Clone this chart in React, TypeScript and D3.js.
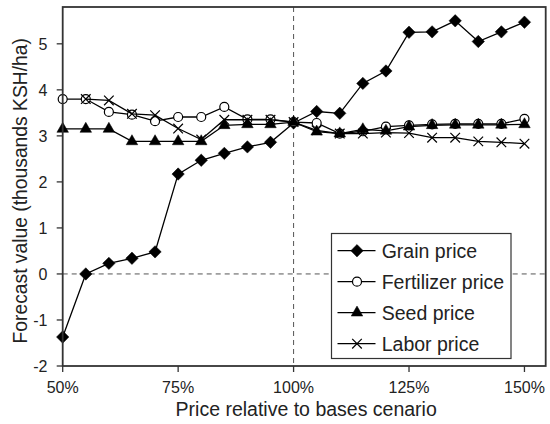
import React from "react";
import * as d3 from "d3";

const xValues = [50, 55, 60, 65, 70, 75, 80, 85, 90, 95, 100, 105, 110, 115, 120, 125, 130, 135, 140, 145, 150];
const grainPrice = [-1.37, 0.0, 0.23, 0.34, 0.48, 2.17, 2.47, 2.62, 2.76, 2.86, 3.28, 3.53, 3.49, 4.14, 4.41, 5.25, 5.26, 5.5, 5.05, 5.26, 5.47];
const fertilizerPrice = [3.8, 3.8, 3.52, 3.46, 3.32, 3.41, 3.41, 3.63, 3.36, 3.36, 3.3, 3.28, 3.05, 3.1, 3.2, 3.23, 3.25, 3.26, 3.26, 3.26, 3.37];
const seedPrice = [3.15, 3.15, 3.15, 2.88, 2.88, 2.88, 2.88, 3.23, 3.25, 3.25, 3.3, 3.09, 3.05, 3.14, 3.11, 3.2, 3.23, 3.24, 3.24, 3.24, 3.25];
const laborPrice: (number | null)[] = [null, 3.8, 3.77, 3.48, 3.45, 3.16, 2.92, 3.35, 3.35, 3.35, 3.3, 3.12, 3.05, 3.05, 3.07, 3.06, 2.96, 2.96, 2.88, 2.86, 2.83];

const seriesNames = ["Grain price", "Fertilizer price", "Seed price", "Labor price"];
const xTicks = [50, 75, 100, 125, 150];
const yTicks = [-2, -1, 0, 1, 2, 3, 4, 5];

const W = 550;
const H = 424;
const left = 62.7;
const right = 545.7;
const top = 7;
const bottom = 366;

const FONT = "'Liberation Sans', Arial, Helvetica, sans-serif";
const TXT = "#222";

function Marker({ kind, x, y }: { kind: string; x: number; y: number }) {
  if (kind === "diamond") {
    const s = 6.2;
    return <path d={`M${x},${y - s}L${x + s},${y}L${x},${y + s}L${x - s},${y}Z`} fill="#000" stroke="#000" strokeWidth={0.5} />;
  }
  if (kind === "circle") {
    return <circle cx={x} cy={y} r={4.5} fill="#fff" stroke="#000" strokeWidth={1.2} />;
  }
  if (kind === "triangle") {
    const tri = d3.symbol().type(d3.symbolTriangle).size(58)();
    return <path d={tri as string} transform={`translate(${x},${y})`} fill="#000" stroke="#000" strokeWidth={0.5} />;
  }
  const s = 4.8;
  return (
    <path d={`M${x - s},${y - s}L${x + s},${y + s}M${x - s},${y + s}L${x + s},${y - s}`} stroke="#000" strokeWidth={1.2} fill="none" />
  );
}

export default function App() {
  const x = d3.scaleLinear().domain([50, 154.6]).range([left, right]);
  const y = d3.scaleLinear().domain([-2, 5.8]).range([bottom, top]);

  const series = [
    { name: seriesNames[0], values: grainPrice, kind: "diamond" },
    { name: seriesNames[1], values: fertilizerPrice, kind: "circle" },
    { name: seriesNames[2], values: seedPrice, kind: "triangle" },
    { name: seriesNames[3], values: laborPrice, kind: "x" },
  ];

  const line = d3
    .line<[number, number | null]>()
    .defined((d) => d[1] !== null)
    .x((d) => x(d[0]))
    .y((d) => y(d[1] as number));

  const legX = 331.5;
  const legY = 233.5;
  const legW = 179.5;
  const legH = 125;
  const rowY = [250.7, 281.7, 312.7, 343.7];

  return (
    <svg width={W} height={H} style={{ position: "absolute", left: 0, top: 0, background: "#fff" }} fontFamily={FONT}>
      <rect x={0} y={0} width={W} height={H} fill="#fff" />
      {/* reference lines */}
      <line x1={x(100)} x2={x(100)} y1={top} y2={bottom} stroke="#555" strokeWidth={1} strokeDasharray="5,4" />
      <line x1={left} x2={right} y1={y(0)} y2={y(0)} stroke="#555" strokeWidth={1} strokeDasharray="5,4" />

      {/* series */}
      {series.map((s) => {
        const pts = xValues.map((xv, i) => [xv, s.values[i]] as [number, number | null]);
        return (
          <g key={s.name}>
            <path d={line(pts) as string} fill="none" stroke="#000" strokeWidth={1.3} />
            {pts
              .filter((p) => p[1] !== null)
              .map((p, i) => (
                <Marker key={i} kind={s.kind} x={x(p[0])} y={y(p[1] as number)} />
              ))}
          </g>
        );
      })}

      {/* frame */}
      <rect x={left} y={top} width={right - left} height={bottom - top} fill="none" stroke="#333" strokeWidth={1.8} />

      {/* y axis ticks */}
      {yTicks.map((t) => (
        <g key={t}>
          <line x1={left - 6} x2={left} y1={y(t)} y2={y(t)} stroke="#333" strokeWidth={1.3} />
          <text x={47.5} y={y(t)} dy="0.36em" textAnchor="end" fontSize={16} fill={TXT}>
            {t}
          </text>
        </g>
      ))}
      {/* x axis ticks */}
      {xTicks.map((t) => (
        <g key={t}>
          <line x1={x(t)} x2={x(t)} y1={bottom} y2={bottom + 6} stroke="#333" strokeWidth={1.3} />
          <text x={x(t)} y={393.3} textAnchor="middle" fontSize={16} fill={TXT}>
            {t}%
          </text>
        </g>
      ))}

      {/* axis titles */}
      <text x={(left + right) / 2 + 2} y={415.5} textAnchor="middle" fontSize={19.5} fill={TXT}>
        Price relative to bases cenario
      </text>
      <text transform={`translate(26.5,${190.8}) rotate(-90)`} textAnchor="middle" fontSize={19.3} fill={TXT}>
        Forecast value (thousands KSH/ha)
      </text>

      {/* legend */}
      <rect x={legX} y={legY} width={legW} height={legH} fill="#fff" stroke="#333" strokeWidth={1.2} />
      {series.map((s, i) => (
        <g key={s.name}>
          <line x1={337.5} x2={375.5} y1={rowY[i]} y2={rowY[i]} stroke="#000" strokeWidth={1.3} />
          <Marker kind={s.kind} x={357} y={rowY[i]} />
          <text x={381.7} y={rowY[i]} dy="0.36em" fontSize={19.5} fill={TXT}>
            {s.name}
          </text>
        </g>
      ))}
    </svg>
  );
}
